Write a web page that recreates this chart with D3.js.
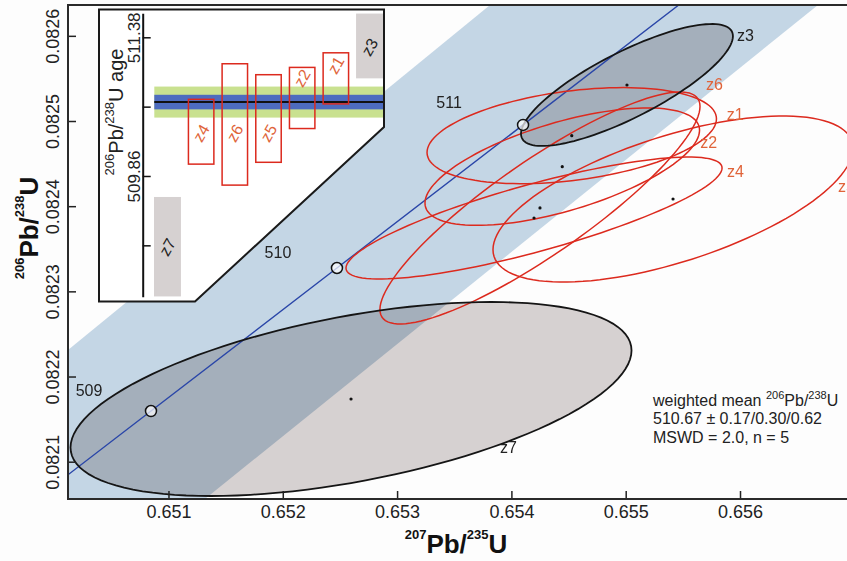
<!DOCTYPE html>
<html>
<head>
<meta charset="utf-8">
<script src="https://cdn.jsdelivr.net/npm/d3@7"></script>
<style>
  body { margin: 0; background: #fdfdfd; }
  svg { display: block; font-family: "Liberation Sans", Arial, sans-serif; }
  .narrow { font-family: "Liberation Sans Narrow", "Arial Narrow", "Liberation Sans", sans-serif; }
</style>
</head>
<body>
<svg id="chart" width="847" height="561"></svg>
<script>
// zircon analyses: 207Pb/235U, 206Pb/238U, 2s half widths, error correlation
const grains = ["z1", "z2", "z3", "z4", "z5", "z6", "z7"];
const pb207u235 = [0.654528, 0.654445, 0.655011, 0.654198, 0.655414, 0.654250, 0.652597];
const pb206u238 = [0.0824828, 0.0824464, 0.0825423, 0.0823861, 0.0824084, 0.0823979, 0.0821736];
const err207 = [0.001266, 0.001201, 0.000927, 0.001645, 0.001575, 0.00140, 0.002454];
const err206 = [0.0000564, 0.0000689, 0.0000716, 0.0000716, 0.0000975, 0.0001362, 0.0001139];
const rho = [0.35, 0.62, 0.80, 0.82, 0.61, 0.875, 0.50];
const excluded = ["z3", "z7"];

// concordia, age markers in Ma
const concordiaAges = [509, 510, 511];
const concordia207 = [0.650847, 0.652474, 0.654102];
const concordia206 = [0.0821595, 0.0823274, 0.0824954];
const concordiaLine207 = [0.650121, 0.650847, 0.652474, 0.654102, 0.655464];
const concordiaLine206 = [0.0820846, 0.0821595, 0.0823274, 0.0824954, 0.0826362];

// decay constant uncertainty envelope (edges)
const bandUpper207 = [0.650121, 0.653813];
const bandUpper206 = [0.0822312, 0.0826362];
const bandLower207 = [0.651319, 0.656682];
const bandLower206 = [0.0820562, 0.0826362];

const xTicks = [0.651, 0.652, 0.653, 0.654, 0.655, 0.656];
const yTicks = [0.0821, 0.0822, 0.0823, 0.0824, 0.0825, 0.0826];

// inset: 206Pb/238U ages (Ma), 2s ranges
const insetOrder = ["z7", "z4", "z6", "z5", "z2", "z1", "z3"];
const ageLow = [508.54, 509.99, 509.76, 510.01, 510.38, 510.65, 510.93];
const ageHigh = [509.63, 510.70, 511.09, 510.97, 511.05, 511.21, 511.64];
const meanAge = 510.67;
const meanErrInner = 0.08;
const meanErrOuter = 0.17;
const insetTicks = [509.10, 509.86, 510.62, 511.38];
const insetTickLabels = ["", "509.86", "", "511.38"];

const statLines = ["510.67 \u00b1 0.17/0.30/0.62", "MSWD = 2.0, n = 5"];

const W = 847, H = 561;
const plot = { left: 68, top: 5, right: 847, bottom: 499 };
const redLine = "#dc2a1e", redText = "#e0643a", grayFill = "#d6d1d1", bandFill = "#c4d6e5";

const svg = d3.select("#chart");
svg.append("rect").attr("width", W).attr("height", H).attr("fill", "#fdfdfd");

const x = d3.scaleLinear().domain([0.650121, 0.656936]).range([plot.left, plot.right]);
const y = d3.scaleLinear().domain([0.0820562, 0.0826362]).range([plot.bottom, plot.top]);

svg.append("clipPath").attr("id", "plotclip")
  .append("rect").attr("x", plot.left).attr("y", plot.top)
  .attr("width", plot.right - plot.left + 5).attr("height", plot.bottom - plot.top);

const g = svg.append("g").attr("clip-path", "url(#plotclip)");

// envelope band
const bandPts = [
  [bandLower207[0], bandLower206[0]],
  [0.650121, 0.0820562],
  [bandUpper207[0], bandUpper206[0]],
  [bandUpper207[1], bandUpper206[1]],
  [bandLower207[1], bandLower206[1]]
];
g.append("path")
  .attr("d", d3.line().x(d => x(d[0])).y(d => y(d[1]))(bandPts) + "Z")
  .attr("fill", bandFill);

const data = grains.map((name, i) => ({
  name, cx: pb207u235[i], cy: pb206u238[i], sx: err207[i], sy: err206[i], r: rho[i],
  out: excluded.includes(name)
}));

function ellipsePath(d) {
  const pts = d3.range(0, 361, 3).map(a => {
    const t = a * Math.PI / 180;
    return [x(d.cx + d.sx * Math.cos(t)),
            y(d.cy + d.sy * (d.r * Math.cos(t) + Math.sqrt(1 - d.r * d.r) * Math.sin(t)))];
  });
  return d3.line()(pts) + "Z";
}

// grey (excluded) ellipses, multiplied over the band
g.selectAll(".fillEll").data(data.filter(d => d.out)).enter()
  .append("path").attr("d", ellipsePath)
  .attr("fill", grayFill).style("mix-blend-mode", "multiply");

// concordia
g.append("path")
  .attr("d", d3.line()(concordiaLine207.map((v, i) => [x(v), y(concordiaLine206[i])])))
  .attr("fill", "none").attr("stroke", "#2a46a8").attr("stroke-width", 1.4);

g.selectAll(".redEll").data(data.filter(d => !d.out)).enter()
  .append("path").attr("d", ellipsePath)
  .attr("fill", "none").attr("stroke", redLine).attr("stroke-width", 1.5);

g.selectAll(".blackEll").data(data.filter(d => d.out)).enter()
  .append("path").attr("d", ellipsePath)
  .attr("fill", "none").attr("stroke", "#151515").attr("stroke-width", 1.8);

g.selectAll(".dot").data(data).enter()
  .append("circle").attr("cx", d => x(d.cx)).attr("cy", d => y(d.cy))
  .attr("r", 1.6).attr("fill", "#111");

// label offsets from ellipse centre (px)
const labelOffset = { z1: [155, -16], z2: [138, -19], z3: [110, -44], z4: [193, -41], z5: [165, -7], z6: [166, -118], z7: [149, 54] };
g.selectAll(".elabel").data(data).enter()
  .append("text")
  .attr("x", d => x(d.cx) + labelOffset[d.name][0])
  .attr("y", d => y(d.cy) + labelOffset[d.name][1])
  .attr("font-size", 16)
  .attr("fill", d => d.out ? "#222" : redText)
  .text(d => d.name);

// concordia age markers
const ageOffset = [[-62, -15], [-59, -10], [-74, -17]];
concordiaAges.forEach((a, i) => {
  g.append("circle").attr("cx", x(concordia207[i])).attr("cy", y(concordia206[i])).attr("r", 5.5)
    .attr("fill", "#fff").attr("fill-opacity", 0.7).attr("stroke", "#111").attr("stroke-width", 1.5);
  g.append("text")
    .attr("x", x(concordia207[i]) + ageOffset[i][0]).attr("y", y(concordia206[i]) + ageOffset[i][1])
    .attr("text-anchor", "middle").attr("font-size", 16).attr("fill", "#222").text(a);
});

// weighted mean text
const stat = svg.append("text").attr("x", 653).attr("y", 406).attr("font-size", 16).attr("fill", "#222");
stat.append("tspan").text("weighted mean ");
stat.append("tspan").attr("font-size", 11).attr("dy", -7).text("206");
stat.append("tspan").attr("dy", 7).text("Pb/");
stat.append("tspan").attr("font-size", 11).attr("dy", -7).text("238");
stat.append("tspan").attr("dy", 7).text("U");
statLines.forEach((s, i) => {
  svg.append("text").attr("x", 653).attr("y", 424 + i * 18.5).attr("font-size", 16).attr("fill", "#222").text(s);
});

// axes
const xAxis = svg.append("g").attr("transform", `translate(0,${plot.bottom})`)
  .call(d3.axisBottom(x).tickValues(xTicks).tickSize(-8).tickPadding(6).tickFormat(d3.format(".3f")));
xAxis.select(".domain").remove();
xAxis.selectAll(".tick line").attr("stroke", "#222").attr("stroke-width", 1.5);
xAxis.selectAll(".tick text").attr("class", "narrow").attr("font-size", 18).attr("fill", "#222");

const yAxis = svg.append("g").attr("transform", `translate(${plot.left},0)`)
  .call(d3.axisLeft(y).tickValues(yTicks).tickSize(-8).tickFormat(d3.format(".4f")));
yAxis.select(".domain").remove();
yAxis.selectAll(".tick line").attr("stroke", "#222").attr("stroke-width", 1.5);
yAxis.selectAll(".tick text").attr("class", "narrow").attr("font-size", 18).attr("fill", "#222")
  .attr("x", 0).attr("dy", null).attr("text-anchor", "middle")
  .attr("transform", "translate(-9,0) rotate(-90)");

// frame
svg.append("path")
  .attr("d", `M${plot.right + 5},${plot.top}H${plot.left}V${plot.bottom}H${plot.right + 5}`)
  .attr("fill", "none").attr("stroke", "#2a2a2a").attr("stroke-width", 2);

// axis titles
function isoTitle(sel, a, b, big, small, shift) {
  sel.append("tspan").attr("font-size", small).attr("dy", -shift).text(a);
  sel.append("tspan").attr("font-size", big).attr("dy", shift).text("Pb/");
  sel.append("tspan").attr("font-size", small).attr("dy", -shift).text(b);
  sel.append("tspan").attr("font-size", big).attr("dy", shift).text("U");
}
const xt = svg.append("text").attr("class", "narrow").attr("x", 456).attr("y", 553)
  .attr("text-anchor", "middle").attr("font-weight", "bold").attr("fill", "#111");
isoTitle(xt, "207", "235", 26, 13, 14);
const yt = svg.append("text").attr("class", "narrow").attr("transform", "translate(38,228) rotate(-90)")
  .attr("text-anchor", "middle").attr("font-weight", "bold").attr("fill", "#111");
isoTitle(yt, "206", "238", 26, 13, 14);

// ---------- inset ----------
const insetPoly = [[99, 9.5], [384, 9.5], [384, 127], [195, 301.5], [99, 301.5]];
const inset = svg.append("g");
inset.append("clipPath").attr("id", "insetclip")
  .append("path").attr("d", d3.line()(insetPoly) + "Z");
inset.append("path").attr("d", d3.line()(insetPoly) + "Z").attr("fill", "#fff");

const iy = d3.scaleLinear().domain([508.537, 511.643]).range([296.7, 13.3]);
const ix = d3.scaleBand().domain(insetOrder).range([154, 383]).paddingInner(0.2).paddingOuter(0);
const ic = inset.append("g").attr("clip-path", "url(#insetclip)");

ic.append("rect").attr("x", 154.3).attr("width", 384 - 154.3)
  .attr("y", iy(meanAge + meanErrOuter)).attr("height", iy(meanAge - meanErrOuter) - iy(meanAge + meanErrOuter))
  .attr("fill", "#c9e190");
ic.append("rect").attr("x", 154.3).attr("width", 384 - 154.3)
  .attr("y", iy(meanAge + meanErrInner)).attr("height", iy(meanAge - meanErrInner) - iy(meanAge + meanErrInner))
  .attr("fill", "#4d6cbf");
ic.append("line").attr("x1", 154.3).attr("x2", 384).attr("y1", iy(meanAge)).attr("y2", iy(meanAge))
  .attr("stroke", "#111").attr("stroke-width", 2);

const idata = insetOrder.map((name, i) => ({ name, lo: ageLow[i], hi: ageHigh[i], out: excluded.includes(name) }));
ic.selectAll(".ibox").data(idata).enter().append("rect")
  .attr("x", d => ix(d.name) + (d.out ? 0 : 0.75))
  .attr("width", d => ix.bandwidth() - (d.out ? 0 : 1.5))
  .attr("y", d => iy(d.hi)).attr("height", d => iy(d.lo) - iy(d.hi))
  .attr("fill", d => d.out ? grayFill : "none")
  .attr("stroke", d => d.out ? "none" : redLine).attr("stroke-width", 1.5);

const insetLabelY = { z7: 247, z4: 133, z6: 133, z5: 133, z2: 78, z1: 65, z3: 47 };
ic.selectAll(".ilabel").data(idata).enter().append("text")
  .attr("transform", d => `translate(${ix(d.name) + ix.bandwidth() / 2},${insetLabelY[d.name]}) rotate(-60)`)
  .attr("text-anchor", "middle").attr("dy", "0.35em").attr("font-size", 16)
  .attr("fill", d => d.out ? "#222" : redText).text(d => d.name);

const iAxis = inset.append("g").attr("transform", "translate(142.7,0)")
  .call(d3.axisRight(iy).tickValues(insetTicks).tickSize(8).tickSizeOuter(0)
    .tickFormat((d, i) => insetTickLabels[i]));
iAxis.select(".domain").attr("stroke", "#111").attr("stroke-width", 2);
iAxis.selectAll(".tick line").attr("stroke", "#111").attr("stroke-width", 1.5);
iAxis.selectAll(".tick text").attr("class", "narrow").attr("font-size", 17).attr("fill", "#222")
  .attr("x", 0).attr("dy", null).attr("text-anchor", "middle")
  .attr("transform", "translate(-3,0) rotate(-90)");

const it = inset.append("text").attr("transform", "translate(123,112) rotate(-90)")
  .attr("text-anchor", "middle").attr("font-size", 20).attr("fill", "#222");
it.append("tspan").attr("font-size", 13).attr("dy", -9).text("206");
it.append("tspan").attr("dy", 9).text("Pb/");
it.append("tspan").attr("font-size", 13).attr("dy", -9).text("238");
it.append("tspan").attr("dy", 9).text("U age");

inset.append("path").attr("d", d3.line()(insetPoly) + "Z")
  .attr("fill", "none").attr("stroke", "#1a1a1a").attr("stroke-width", 2);
</script>
</body>
</html>
